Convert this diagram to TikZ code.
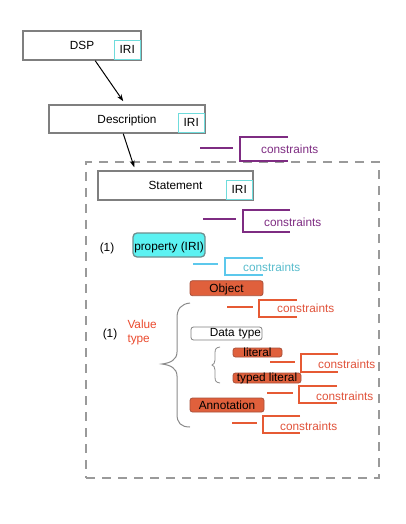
\documentclass[tikz,border=0pt]{standalone}
\usepackage{fontspec}
\setmainfont{Liberation Sans}
\usetikzlibrary{calc,arrows.meta}
\definecolor{boxgrey}{HTML}{7F7F7F}
\definecolor{iricyan}{HTML}{6FDCDC}
\definecolor{propfill}{HTML}{5CF2F2}
\definecolor{propdraw}{HTML}{6E8E8E}
\definecolor{orfill}{HTML}{E0603C}
\definecolor{ordraw}{HTML}{A8503A}
\definecolor{purp}{HTML}{7E2C82}
\definecolor{cyline}{HTML}{5CC8EC}
\definecolor{cytext}{HTML}{58BCCC}
\definecolor{orline}{HTML}{E65A34}
\definecolor{ortext}{HTML}{E0523A}
\definecolor{valred}{HTML}{EA4A2E}
\definecolor{framegrey}{HTML}{9A9A9A}
\definecolor{bracegrey}{HTML}{8A8A8A}
\begin{document}
\begin{tikzpicture}[x=1bp,y=-1bp,
  every node/.style={font=\fontsize{11.8bp}{14bp}\selectfont, inner sep=0pt},
  tb/.style 2 args={text height=#1bp, text depth=#2bp},
  mainbox/.style={draw=boxgrey, line width=1.5bp, fill=white},
  iribox/.style={draw=iricyan, line width=1bp, fill=white, minimum width=26bp, tb={13.7}{5.3}},
  propbox/.style={draw=propdraw, line width=1.3bp, fill=propfill, rounded corners=4bp},
  orbox/.style={draw=ordraw, line width=0.8bp, fill=orfill, rounded corners=2.5bp},
  dtbox/.style={draw=boxgrey, line width=0.8bp, fill=white, rounded corners=2.5bp},
  arr/.style={-{Stealth[length=7bp,width=5bp]}, line width=1bp, black},
  cons/.style={line width=2bp},
  constxt/.style={anchor=base west},
  bracepath/.style={draw=bracegrey, line width=1bp},
  framebox/.style={draw=framegrey, line width=1.2bp, dash pattern=on 9bp off 7bp}
]
\useasboundingbox (0,0) rectangle (405,524);

% dashed frame
\node[framebox, minimum width=293bp, minimum height=316bp] (frame) at (232.5,320) {};

% main boxes
\node[mainbox, minimum width=118bp, tb={18.3}{10.7}] (dsp) at (82,45.5) {DSP};
\node[iribox, anchor=south east] (dspiri) at ($(dsp.south east)+(-1,-1)$) {IRI};
\node[mainbox, minimum width=156bp, tb={18.3}{9.7}] (desc) at (127,119) {Description};
\node[iribox, anchor=south east] (desciri) at ($(desc.south east)+(-1,-1)$) {IRI};
\node[mainbox, minimum width=155bp, tb={18.3}{10.7}] (stmt) at (175.5,185.5) {Statement};
\node[iribox, anchor=south east] (stmtiri) at ($(stmt.south east)+(-1,-1)$) {IRI};

% arrows
\draw[arr] ($(dsp.south west)+(73,0)$) -- ($(desc.north west)+(75,-3)$);
\draw[arr] ($(desc.south west)+(75,0)$) -- ($(stmt.north west)+(37,-3)$);

% property
\node[anchor=base] (one1) at (107,251) {(1)};
\node[propbox, minimum width=72bp, tb={17.5}{6.5}] (prop) at (169,245) {property (IRI)};

% object & value types
\node[orbox, minimum width=73bp, tb={11.6}{3.4}] (obj) at (226.5,288.2) {Object};
\node[anchor=base] (one2) at (110,337) {(1)};
\node[anchor=base west, text=valred] (val1) at (127.3,328.3) {Value};
\node[anchor=base west, text=valred] (val2) at (127.3,342.7) {type};
\node[dtbox, text width=69bp, align=right, inner xsep=1bp, tb={9.7}{3.3}] (dt) at (226.5,333.5) {Data type};
\node[orbox, minimum width=49bp, tb={8.7}{0.3}] (lit) at (257.5,352.5) {literal};
\node[orbox, minimum width=68bp, tb={8.7}{1.3}] (tlit) at (267,378) {typed literal};
\node[orbox, minimum width=74bp, tb={11.3}{2.7}] (ann) at (227,405) {Annotation};

% braces
\draw[bracepath] (190,303) .. controls (181,304) and (177,309) .. (177,318) -- (177,352)
  .. controls (177,360) and (170,363) .. (162,364)
  .. controls (170,365) and (177,368) .. (177,376) -- (177,414)
  .. controls (177,423) and (181,427) .. (190,427);
\draw[bracepath, line width=0.8bp] (220,347) .. controls (216,347.5) and (215,349) .. (215,353) -- (215,360)
  .. controls (215,363) and (213.5,364.5) .. (212,365)
  .. controls (213.5,365.5) and (215,367) .. (215,370) -- (215,377)
  .. controls (215,381) and (216,382.5) .. (220,383);

% constraints: purple (description)
\draw[purp, cons] (200,148) -- (233,148);
\draw[purp, cons] (288,137) -- (240,137) -- (240,161) -- (288,161);
\node[constxt, text=purp] (cA) at (261,153.3) {constraints};
% purple (statement)
\draw[purp, cons] (203,219) -- (236,219);
\draw[purp, cons] (290,210) -- (243,210) -- (243,232) -- (290,232);
\node[constxt, text=purp] (cB) at (264,226) {constraints};
% cyan (property)
\draw[cyline, cons] (193,264) -- (218,264);
\draw[cyline, cons] (263,258) -- (225,258) -- (225,275) -- (263,275);
\node[constxt, text=cytext] (cC) at (243,271) {constraints};
% orange (object)
\draw[orline, cons] (227,307) -- (253,307);
\draw[orline, cons] (297,299.5) -- (259,299.5) -- (259,317) -- (297,317);
\node[constxt, text=ortext] (cD) at (277,312) {constraints};
% orange (literal)
\draw[orline, cons] (270,362) -- (295,362);
\draw[orline, cons] (338,354) -- (301,354) -- (301,372) -- (338,372);
\node[constxt, text=ortext] (cE) at (318,368) {constraints};
% orange (typed literal)
\draw[orline, cons] (267,393) -- (293,393);
\draw[orline, cons] (337,386) -- (299,386) -- (299,403) -- (337,403);
\node[constxt, text=ortext] (cF) at (316,400) {constraints};
% orange (annotation)
\draw[orline, cons] (232,423) -- (257,423);
\draw[orline, cons] (300,416) -- (263,416) -- (263,433) -- (300,433);
\node[constxt, text=ortext] (cG) at (280,430.5) {constraints};
\end{tikzpicture}
\end{document}
